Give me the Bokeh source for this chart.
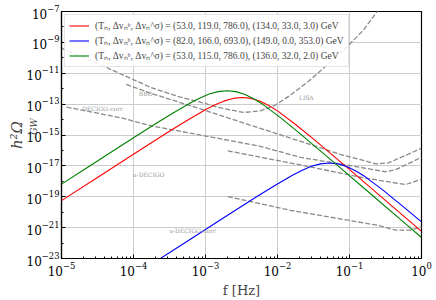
import numpy as np
from bokeh.plotting import figure
from bokeh.models import FixedTicker, Legend, LegendItem, Label, Title
from bokeh.embed import file_html
from bokeh.resources import INLINE

# ---- GW spectra: log10 f [Hz] and log10 h^2 Omega_GW ----
red_logf = [-5.0, -4.49, -3.99, -3.49, -3.24, -2.99, -2.865, -2.74, -2.615, -2.49, -2.365,
            -2.24, -2.115, -1.99, -1.74, -1.49, -0.99, -0.49, 0.0]
red_logO = [-19.25, -17.72, -16.22, -14.73, -14.01, -13.33, -13.04, -12.79, -12.63, -12.57, -12.63,
            -12.82, -13.11, -13.47, -14.35, -15.30, -17.28, -19.28, -21.24]

blue_logf = [-3.78, -3.28, -2.78, -2.28, -2.03, -1.78, -1.655, -1.53, -1.405, -1.28, -1.155,
             -1.03, -0.905, -0.78, -0.53, -0.28, 0.0]
blue_logO = [-23.46, -21.96, -20.46, -18.97, -18.25, -17.57, -17.28, -17.03, -16.87, -16.81, -16.87,
             -17.06, -17.35, -17.71, -18.59, -19.54, -20.63]

green_logf = [-5.0, -4.70, -4.20, -3.70, -3.45, -3.20, -3.075, -2.95, -2.825, -2.70, -2.575,
              -2.45, -2.325, -2.20, -1.95, -1.70, -1.20, -0.70, -0.20, 0.0]
green_logO = [-18.18, -17.28, -15.78, -14.29, -13.57, -12.89, -12.60, -12.35, -12.19, -12.13, -12.19,
              -12.38, -12.67, -13.03, -13.91, -14.86, -16.84, -18.84, -20.84, -21.64]

labels = [
    "(Tₙ, Δvₙᵇ, Δvₙ^σ) = (53.0, 119.0, 786.0), (134.0, 33.0, 3.0) GeV",
    "(Tₙ, Δvₙᵇ, Δvₙ^σ) = (82.0, 166.0, 693.0), (149.0, 0.0, 353.0) GeV",
    "(Tₙ, Δvₙᵇ, Δvₙ^σ) = (53.0, 115.0, 786.0), (136.0, 32.0, 2.0) GeV",
]

# ---- detector sensitivity curves (log10 f, log10 h^2 Omega) ----
lisa_logf = [-5.0, -4.46, -3.76, -3.35, -3.07, -2.79, -2.47, -2.24, -2.03, -1.82, -1.54, -1.08, -0.81, -0.61, -0.50]
lisa_logO = [-9.37, -10.45, -11.92, -12.55, -12.87, -13.25, -13.54, -13.44, -13.06, -12.42, -11.41, -9.50, -8.23, -6.96, -6.32]

bbo_logf = [-4.10, -3.76, -3.07, -2.24, -1.68, -1.13, -0.63, -0.46, 0.0]
bbo_logO = [-11.72, -12.30, -13.31, -14.57, -15.41, -16.25, -16.87, -16.81, -15.86]

dcorr_logf = [-4.93, -4.17, -3.76, -2.24, -1.68, -0.99, -0.50, -0.36, 0.0]
dcorr_logO = [-13.19, -13.89, -14.40, -15.73, -16.45, -16.98, -17.38, -17.25, -16.45]

udec_logf = [-2.69, -1.68, -0.81, -0.22, 0.0]
udec_logO = [-16.03, -16.94, -17.77, -18.21, -17.87]

udcorr_logf = [-2.69, -1.82, -0.61, -0.36, -0.15, 0.0]
udcorr_logO = [-18.99, -19.88, -20.85, -21.16, -21.16, -20.95]

det_names = ["BBO", "LISA", "DECIGO-corr", "u-DECIGO", "u-DECIGO-corr"]
det_label_logf = [-3.83, -1.60, -4.43, -3.79, -3.18]
det_label_logO = [-12.30, -12.55, -13.31, -17.58, -21.20]

x_major = [1e-5, 1e-4, 1e-3, 1e-2, 1e-1, 1e0]
y_major = [1e-23, 1e-21, 1e-19, 1e-17, 1e-15, 1e-13, 1e-11, 1e-9, 1e-7]

def P(a):
    return np.power(10.0, np.asarray(a, dtype=float))

SERIF = "DejaVu Serif"

p = figure(width=436, height=300, x_axis_type="log", y_axis_type="log",
           x_range=(1e-5, 1.0), y_range=(1e-23, 1e-7),
           output_backend="svg", toolbar_location=None,
           min_border_left=61, min_border_right=15, min_border_top=11, min_border_bottom=38)

p.background_fill_color = "white"
p.outline_line_color = "black"
p.outline_line_width = 1.2

x_minor = [m * d for d in [1e-5, 1e-4, 1e-3, 1e-2, 1e-1] for m in range(2, 10)]
y_minor = [10.0 ** e for e in range(-22, -7, 2)]
p.xaxis.ticker = FixedTicker(ticks=x_major, minor_ticks=x_minor)
p.yaxis.ticker = FixedTicker(ticks=y_major, minor_ticks=y_minor)

for ax in (p.xaxis, p.yaxis):
    ax.major_label_text_font = SERIF
    ax.major_label_text_font_size = "12px"
    ax.major_label_text_color = "black"
    ax.major_tick_in = 4
    ax.major_tick_out = 0
    ax.minor_tick_in = 2
    ax.minor_tick_out = 0
    ax.axis_line_color = "black"
    ax.axis_line_width = 1.2
    ax.major_tick_line_color = "black"
    ax.minor_tick_line_color = "black"
    ax.major_label_standoff = 3

# axis titles
p.xaxis.axis_label = "f [Hz]"
p.xaxis.axis_label_text_font = SERIF
p.xaxis.axis_label_text_font_style = "normal"
p.xaxis.axis_label_text_font_size = "13px"
p.xaxis.axis_label_standoff = 4

p.yaxis.axis_label = "\u00a0\u00a0\u00a0\u00a0\u00a0\u00a0GW"
p.yaxis.axis_label_text_font = SERIF
p.yaxis.axis_label_text_font_style = "italic"
p.yaxis.axis_label_text_font_size = "9px"
p.yaxis.axis_label_standoff = -15
p.yaxis.major_label_standoff = 2

p.add_layout(Title(text="h²Ω", text_font=SERIF, text_font_style="italic", text_font_size="15px",
                   align="center", offset=-12, standoff=0), "left")

p.grid.grid_line_color = "#cccccc"
p.grid.grid_line_width = 1

dash_kw = dict(line_color="#8a8a8a", line_width=1.3, line_dash="5 2")
for fx, fy in [(lisa_logf, lisa_logO), (bbo_logf, bbo_logO), (dcorr_logf, dcorr_logO),
               (udec_logf, udec_logO), (udcorr_logf, udcorr_logO)]:
    p.line(P(fx), P(fy), **dash_kw)

for name, lx, ly in zip(det_names, det_label_logf, det_label_logO):
    p.add_layout(Label(x=10 ** lx, y=10 ** ly, text=name, text_font=SERIF, text_font_size="6px",
                       text_color="#999999", text_align="center", text_baseline="middle"))

r_red = p.line(P(red_logf), P(red_logO), line_color="red", line_width=1.1)
r_blue = p.line(P(blue_logf), P(blue_logO), line_color="blue", line_width=1.1)
r_green = p.line(P(green_logf), P(green_logO), line_color="green", line_width=1.1)

legend = Legend(items=[LegendItem(label=labels[0], renderers=[r_red]),
                       LegendItem(label=labels[1], renderers=[r_blue]),
                       LegendItem(label=labels[2], renderers=[r_green])],
                location="top_left")
legend.label_text_font = "Liberation Serif"
legend.label_text_font_size = "9.5px"
legend.glyph_width = 20
legend.glyph_height = 11
legend.label_height = 11
legend.label_standoff = 6
legend.spacing = 2
legend.padding = 4
legend.margin = 3
legend.border_line_color = "#cccccc"
legend.background_fill_alpha = 0.85
p.add_layout(legend)

open("out.html", "w").write(file_html(p, INLINE))
